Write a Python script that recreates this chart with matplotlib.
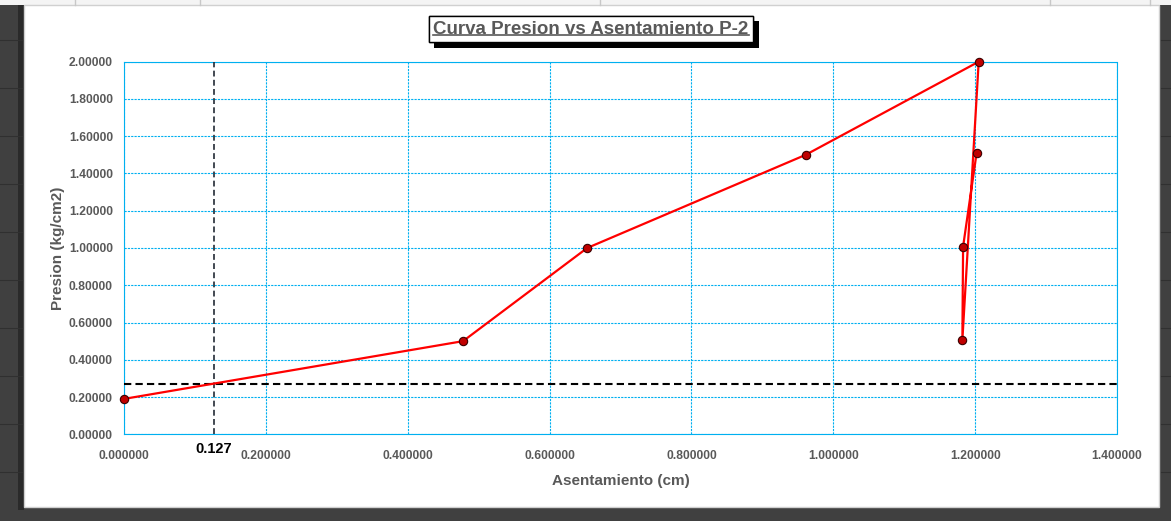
import matplotlib.pyplot as plt
import matplotlib.patheffects as pe
from matplotlib.patches import Rectangle
from matplotlib.ticker import FormatStrFormatter, MultipleLocator

# data
asentamiento = [0.000, 0.478, 0.653, 0.961, 1.205, 1.182, 1.183, 1.202]
presion = [0.19, 0.50, 1.00, 1.50, 2.00, 0.506, 1.007, 1.509]
x_ref = 0.127
y_ref = 0.27

GRAY = "#595959"
plt.rcParams["font.family"] = ["Liberation Sans", "DejaVu Sans"]

fig = plt.figure(figsize=(11.71, 5.21), dpi=100, facecolor="#404040")
W, H = 1171, 521

# spreadsheet strip on top and the white chart card
fig.patches.append(Rectangle((0, 1 - 5 / H), 1, 5 / H, transform=fig.transFigure,
                             facecolor="#f4f4f4", edgecolor="none", zorder=0))
for xx in [75, 200, 600, 1050, 1150]:
    fig.add_artist(plt.Line2D([xx / W, xx / W], [1 - 5 / H, 1], transform=fig.transFigure,
                              color="#c8c8c8", lw=1))
for yy in [40, 88, 136, 184, 232, 280, 328, 376, 424, 472]:
    fig.add_artist(plt.Line2D([0, 22 / W], [1 - yy / H, 1 - yy / H], transform=fig.transFigure,
                              color="#303030", lw=0.8))
    fig.add_artist(plt.Line2D([1161 / W, 1], [1 - yy / H, 1 - yy / H], transform=fig.transFigure,
                              color="#303030", lw=0.8))
fig.patches.append(Rectangle((18 / W, 1 - 510 / H), 6 / W, 505 / H, transform=fig.transFigure,
                             facecolor="#2a2a2a", edgecolor="none", zorder=0.5))
fig.patches.append(Rectangle((24 / W, 1 - 507 / H), (1159 - 24) / W, (507 - 5) / H,
                             transform=fig.transFigure, facecolor="white",
                             edgecolor="#d0d0d0", lw=1, zorder=1))

ax = fig.add_axes([124 / W, 1 - 434.3 / H, (1117 - 124) / W, (434.3 - 61.7) / H])
ax.set_facecolor("none")
ax.set_zorder(2)

ax.set_xlim(0, 1.4)
ax.set_ylim(0, 2.0)
ax.xaxis.set_major_locator(MultipleLocator(0.2))
ax.yaxis.set_major_locator(MultipleLocator(0.2))
ax.xaxis.set_major_formatter(FormatStrFormatter("%.6f"))
ax.yaxis.set_major_formatter(FormatStrFormatter("%.5f"))

ax.grid(True, color="#00b0f0", linestyle=(0, (2, 1)), linewidth=0.8)
for s in ax.spines.values():
    s.set_color("#00b0f0")
    s.set_linestyle((0, (2, 1)))
    s.set_linewidth(0.8)

ax.tick_params(length=0, labelsize=8.7, labelcolor=GRAY)
ax.tick_params(axis="y", pad=8)
ax.tick_params(axis="x", pad=11)
for lab in ax.get_xticklabels() + ax.get_yticklabels():
    lab.set_fontweight("bold")

# reference lines
ax.axhline(y_ref, color="black", linestyle=(0, (3.5, 2)), linewidth=1.5, zorder=3)
ax.axvline(x_ref, color="#222a35", linestyle=(0, (3.5, 2)), linewidth=1.2, zorder=3)
ax.text(x_ref, -0.04, f"{x_ref:.3f}", ha="center", va="top", fontsize=10.5,
        fontweight="bold", color="black", transform=ax.transData)

ax.plot(asentamiento, presion, color="#ff0000", linewidth=1.6, marker="o",
        markersize=6, markerfacecolor="#c00000", markeredgecolor="#3a0000",
        markeredgewidth=0.8, zorder=4, clip_on=False)

ax.set_xlabel("Asentamiento (cm)", fontsize=11, fontweight="bold", color=GRAY, labelpad=9)
ax.set_ylabel("Presion (kg/cm2)", fontsize=11, fontweight="bold", color=GRAY, labelpad=3)

# title box with shadow and underline
title = fig.text(591 / W, 1 - 29 / H, "Curva Presion vs Asentamiento P-2",
                 ha="center", va="center", fontsize=13.5, fontweight="bold", color=GRAY,
                 zorder=5,
                 bbox=dict(boxstyle="square,pad=0.25", facecolor="white",
                           edgecolor="black", linewidth=1))
title.get_bbox_patch().set_path_effects(
    [pe.withSimplePatchShadow(offset=(4, -4), shadow_rgbFace="black", alpha=1.0), pe.Normal()])

fig.canvas.draw()
bb = title.get_window_extent(renderer=fig.canvas.get_renderer())
x0, x1 = bb.x0 / W, bb.x1 / W
yl = (bb.y0 + 2.5) / H
fig.add_artist(plt.Line2D([x0, x1], [yl, yl], transform=fig.transFigure,
                          color=GRAY, lw=1.2, zorder=6))

fig.savefig("out.png", dpi=100, facecolor=fig.get_facecolor())
